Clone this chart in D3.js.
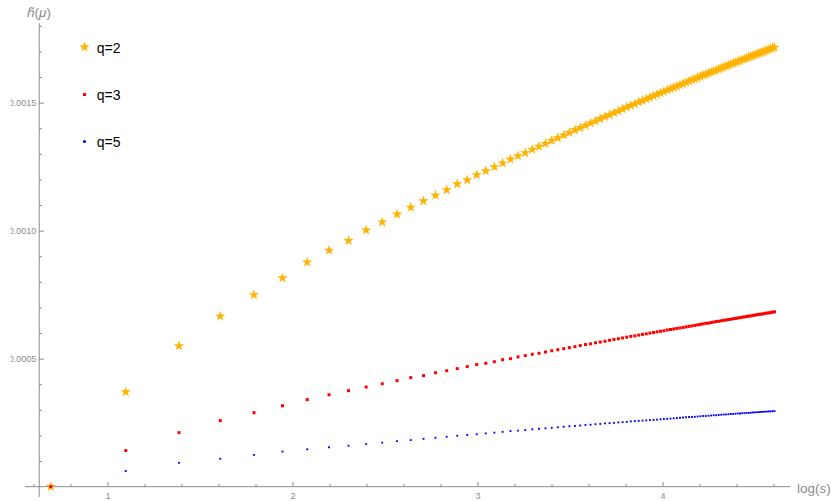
<!DOCTYPE html>
<html>
<head>
<meta charset="utf-8">
<script src="https://cdn.jsdelivr.net/npm/d3@7"></script>
<style>
  body { margin: 0; background: #fff; }
  svg { display: block; font-family: "Liberation Sans", Arial, sans-serif; }
</style>
</head>
<body>
<div id="chart"></div>
<script>
// sizes s = 2..100, plotted at log(s)
const sizes = [2,3,4,5,6,7,8,9,10,11,12,13,14,15,16,17,18,19,20,21,22,23,24,25,26,27,28,29,30,
  31,32,33,34,35,36,37,38,39,40,41,42,43,44,45,46,47,48,49,50,51,52,53,54,55,56,57,58,59,60,
  61,62,63,64,65,66,67,68,69,70,71,72,73,74,75,76,77,78,79,80,81,82,83,84,85,86,87,88,89,90,
  91,92,93,94,95,96,97,98,99,100];

// q=2
const q2 = [0, 0.000370, 0.000550, 0.000666, 0.000749, 0.000815, 0.000877, 0.000923, 0.000961,
  0.001002, 0.001033, 0.001064, 0.001091, 0.001116, 0.001138, 0.001159, 0.001182, 0.001198,
  0.001218, 0.001233, 0.001249, 0.001264, 0.001279, 0.001292, 0.001304, 0.001317, 0.001329,
  0.001340, 0.001352, 0.001362, 0.001373, 0.001383, 0.001393, 0.001402, 0.001411, 0.001420,
  0.001428, 0.001437, 0.001445, 0.001452, 0.001460, 0.001467, 0.001475, 0.001482, 0.001489,
  0.001495, 0.001502, 0.001508, 0.001514, 0.001520, 0.001526, 0.001532, 0.001538, 0.001543,
  0.001549, 0.001554, 0.001559, 0.001564, 0.001569, 0.001574, 0.001579, 0.001584, 0.001589,
  0.001593, 0.001598, 0.001602, 0.001607, 0.001611, 0.001615, 0.001619, 0.001623, 0.001627,
  0.001631, 0.001635, 0.001639, 0.001643, 0.001646, 0.001650, 0.001654, 0.001657, 0.001661,
  0.001664, 0.001668, 0.001671, 0.001674, 0.001677, 0.001681, 0.001684, 0.001687, 0.001690,
  0.001693, 0.001696, 0.001699, 0.001702, 0.001705, 0.001708, 0.001711, 0.001714, 0.001716];

// q=3
const q3 = [0, 0.000141, 0.000211, 0.000258, 0.000289, 0.000316, 0.000340, 0.000359, 0.000375,
  0.000389, 0.000402, 0.000414, 0.000426, 0.000434, 0.000445, 0.000453, 0.000461, 0.000469,
  0.000477, 0.000482, 0.000488, 0.000496, 0.000500, 0.000507, 0.000512, 0.000517, 0.000521,
  0.000526, 0.000531, 0.000535, 0.000539, 0.000543, 0.000547, 0.000551, 0.000555, 0.000558,
  0.000562, 0.000565, 0.000568, 0.000572, 0.000575, 0.000578, 0.000581, 0.000584, 0.000587,
  0.000589, 0.000592, 0.000595, 0.000597, 0.000600, 0.000602, 0.000605, 0.000607, 0.000609,
  0.000612, 0.000614, 0.000616, 0.000618, 0.000620, 0.000622, 0.000624, 0.000626, 0.000628,
  0.000630, 0.000632, 0.000634, 0.000636, 0.000638, 0.000639, 0.000641, 0.000643, 0.000645,
  0.000646, 0.000648, 0.000650, 0.000651, 0.000653, 0.000654, 0.000656, 0.000657, 0.000659,
  0.000660, 0.000662, 0.000663, 0.000665, 0.000666, 0.000667, 0.000669, 0.000670, 0.000672,
  0.000673, 0.000674, 0.000675, 0.000677, 0.000678, 0.000679, 0.000680, 0.000682, 0.000683];

// q=5
const q5 = [0, 0.0000613, 0.0000930, 0.000109, 0.000124, 0.000137, 0.000146, 0.000154, 0.000160,
  0.000166, 0.000172, 0.000178, 0.000182, 0.000187, 0.000191, 0.000195, 0.000199, 0.000202,
  0.000205, 0.000208, 0.000211, 0.000214, 0.000217, 0.000219, 0.000221, 0.000224, 0.000226,
  0.000228, 0.000230, 0.000232, 0.000234, 0.000236, 0.000237, 0.000239, 0.000241, 0.000242,
  0.000244, 0.000245, 0.000247, 0.000248, 0.000249, 0.000251, 0.000252, 0.000253, 0.000255,
  0.000256, 0.000257, 0.000258, 0.000259, 0.000260, 0.000261, 0.000262, 0.000263, 0.000264,
  0.000265, 0.000266, 0.000267, 0.000268, 0.000269, 0.000270, 0.000271, 0.000272, 0.000272,
  0.000273, 0.000274, 0.000275, 0.000276, 0.000276, 0.000277, 0.000278, 0.000279, 0.000279,
  0.000280, 0.000281, 0.000282, 0.000282, 0.000283, 0.000284, 0.000284, 0.000285, 0.000286,
  0.000286, 0.000287, 0.000287, 0.000288, 0.000288, 0.000289, 0.000290, 0.000290, 0.000291,
  0.000291, 0.000292, 0.000292, 0.000293, 0.000293, 0.000294, 0.000294, 0.000295, 0.000295];

const seriesNames = ["q=2", "q=3", "q=5"];
const seriesColors = ["#ffb300", "#ff0000", "#0000ff"];

const xMajorTicks = [1, 2, 3, 4];
const xMinorTicks = [0.6, 0.8, 1.2, 1.4, 1.6, 1.8, 2.2, 2.4, 2.6, 2.8, 3.2, 3.4, 3.6, 3.8, 4.2, 4.4, 4.6];
const yMajorTicks = [0.0005, 0.0010, 0.0015];
const yTickLabels = ["0.0005", "0.0010", "0.0015"];
const yMinorTicks = [0.0001, 0.0002, 0.0003, 0.0004, 0.0006, 0.0007, 0.0008, 0.0009,
  0.0011, 0.0012, 0.0013, 0.0014, 0.0016, 0.0017, 0.0018];

const width = 831, height = 501;
const axisColor = "#8c8c8c";

const svg = d3.select("#chart").append("svg")
  .attr("width", width)
  .attr("height", height);

// scales
const x = d3.scaleLinear().domain([0.554, 4.689]).range([25, 790]);
const y = d3.scaleLinear().domain([-0.00004, 0.00181]).range([496.9, 23.3]);
const xOrigin = 0.631;

// labels left of x=10.5 are cut off, as in the original
svg.append("defs").append("clipPath").attr("id", "leftclip")
  .append("rect").attr("x", 10.5 - x(xOrigin)).attr("y", 0).attr("width", width).attr("height", height);

// x axis
const xAxisG = svg.append("g").attr("transform", `translate(0,${y(0)})`);
xAxisG.append("g")
  .call(d3.axisBottom(x).tickValues(xMinorTicks).tickSize(-2.7).tickFormat(""))
  .call(g => g.select(".domain").remove());
xAxisG.append("g")
  .call(d3.axisBottom(x).tickValues(xMajorTicks).tickSize(-4.7).tickPadding(6).tickFormat(d3.format("d")))
  .call(g => g.select(".domain").remove());
xAxisG.append("line")
  .attr("x1", x.range()[0]).attr("x2", x.range()[1]);

// y axis
const yAxisG = svg.append("g").attr("transform", `translate(${x(xOrigin)},0)`);
yAxisG.append("g")
  .call(d3.axisLeft(y).tickValues(yMinorTicks).tickSize(-2.7).tickFormat(""))
  .call(g => g.select(".domain").remove());
yAxisG.append("g")
  .attr("clip-path", "url(#leftclip)")
  .call(d3.axisLeft(y).tickValues(yMajorTicks).tickSize(-4.7).tickPadding(3)
    .tickFormat((d, i) => yTickLabels[i]))
  .call(g => g.select(".domain").remove());
yAxisG.append("line")
  .attr("y1", y.range()[0]).attr("y2", y.range()[1]);

svg.selectAll(".tick line, g > line").attr("stroke", axisColor).attr("stroke-width", 1);
svg.selectAll(".tick text").attr("fill", axisColor).attr("font-size", 9)
  .attr("font-family", "Liberation Sans, Arial, sans-serif");

// axis labels
const xl = svg.append("text")
  .attr("x", 797).attr("y", 493)
  .attr("font-size", 13.5).attr("fill", axisColor);
xl.append("tspan").text("log(");
xl.append("tspan").attr("font-style", "italic").text("s");
xl.append("tspan").text(")");

const yl = svg.append("text")
  .attr("x", 27).attr("y", 17)
  .attr("font-size", 13.5).attr("fill", axisColor);
yl.append("tspan").attr("font-style", "italic").text("h\u0303");
yl.append("tspan").text("(");
yl.append("tspan").attr("font-style", "italic").text("\u03bc");
yl.append("tspan").text(")");

// points (q=5 drawn before q=3 so the red sits on top at s=2)
const drawOrder = [0, 2, 1];
const allSeries = [q2, q3, q5];
const symbols = [d3.symbol(d3.symbolStar, 34), d3.symbol(d3.symbolSquare, 9), d3.symbol(d3.symbolSquare, 3.5)];

drawOrder.forEach(function (k) {
  const vals = allSeries[k];
  svg.append("g").selectAll("path")
    .data(sizes.map((s, i) => ({ s: s, v: vals[i] })))
    .join("path")
    .attr("d", symbols[k])
    .attr("transform", d => `translate(${x(Math.log(d.s))},${y(d.v)})`)
    .attr("fill", seriesColors[k]);
});

// legend
const legendY = [47, 94.5, 141.5];
const legendSymbols = [d3.symbol(d3.symbolStar, 34), d3.symbol(d3.symbolSquare, 9), d3.symbol(d3.symbolCircle, 8)];
seriesNames.forEach(function (name, k) {
  const g = svg.append("g").attr("transform", `translate(84.5,${legendY[k]})`);
  g.append("path").attr("d", legendSymbols[k]).attr("fill", seriesColors[k]);
  g.append("text").attr("x", 12.3).attr("y", 5.5)
    .attr("font-size", 14).attr("fill", "#000").text(name);
});
</script>
</body>
</html>
